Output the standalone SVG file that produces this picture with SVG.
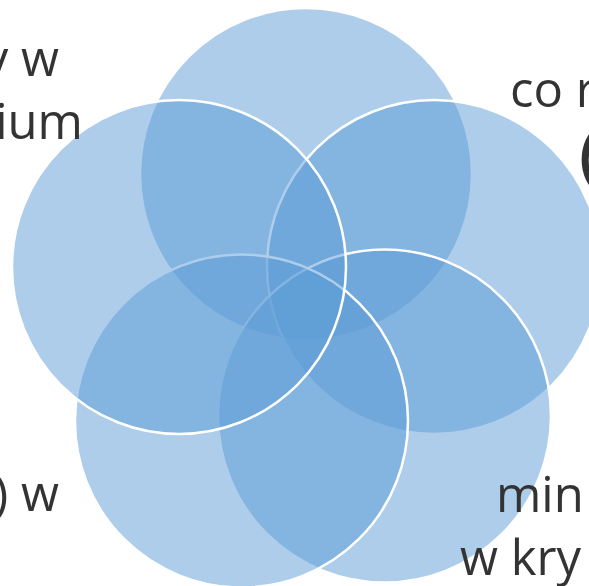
<svg xmlns="http://www.w3.org/2000/svg" width="589" height="586" viewBox="0 0 589 586">
  <style>
    .c { fill: #5B9BD5; fill-opacity: 0.5; stroke: #FFFFFF; stroke-width: 2.5; }
    .t { font-family: "Open Sans", "Noto Sans", sans-serif; font-size: 49px; fill: #333333; }
    .big { font-family: "Open Sans", "Noto Sans", sans-serif; font-size: 66px; font-weight: 600; fill: #333333; }
  </style>
  <rect width="589" height="586" fill="#FFFFFF"/>
  <g id="nodes">
    <g id="node-top"><circle class="c" cx="306" cy="174" r="166"/></g>
    <g id="node-right"><circle class="c" cx="434" cy="267" r="167"/></g>
    <g id="node-bottom-right"><circle class="c" cx="384.5" cy="416" r="166.5"/></g>
    <g id="node-bottom-left"><circle class="c" cx="241.5" cy="421" r="166.5"/></g>
    <g id="node-left"><circle class="c" cx="179" cy="267" r="167"/></g>
  </g>
  <g id="connectors"></g>
  <g id="labels">
    <g id="label-top-left">
      <text class="t" x="59" y="76" text-anchor="end">y w</text>
      <text class="t" x="83" y="139" text-anchor="end">ium</text>
    </g>
    <g id="label-top-right">
      <text class="t" x="510" y="107">co r</text>
      <text class="big" x="579" y="178">(</text>
    </g>
    <g id="label-bottom-left">
      <text class="t" x="59" y="511" text-anchor="end">) w</text>
    </g>
    <g id="label-bottom-right">
      <text class="t" x="496" y="512">min</text>
      <text class="t" x="460" y="575">w kry</text>
    </g>
  </g>
</svg>
